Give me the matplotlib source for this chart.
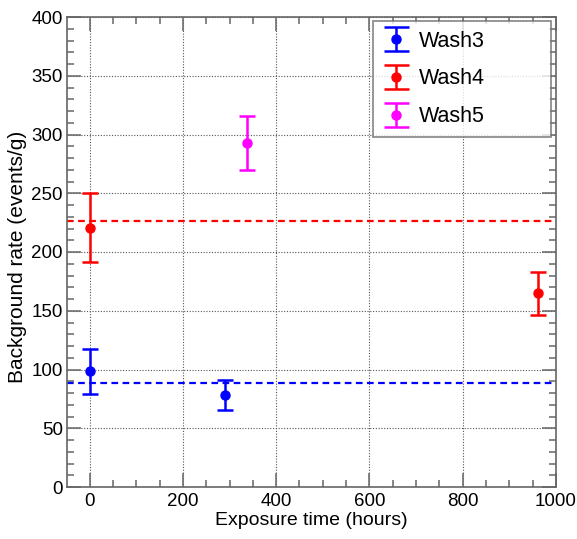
import matplotlib
matplotlib.use("Agg")
import matplotlib.pyplot as plt
from matplotlib.ticker import MultipleLocator
from matplotlib.legend_handler import HandlerErrorbar
from matplotlib.lines import Line2D

plt.rcParams['font.family'] = ['Liberation Sans', 'DejaVu Sans']

# Data
wash3_x = [0, 291]
wash3_y = [98.5, 78.3]
wash3_err = [19.3, 12.5]

wash4_x = [0, 962]
wash4_y = [220.8, 164.8]
wash4_err = [29.3, 18.0]

wash5_x = [338]
wash5_y = [293.0]
wash5_err = [23.0]

wash3_mean = 88.6
wash4_mean = 226.4

labels = ["Wash3", "Wash4", "Wash5"]
colors = ["#0000ff", "#ff0000", "#ff00ff"]

fig = plt.figure(figsize=(5.77, 5.39), dpi=100)
ax = fig.add_axes([67/577, 1 - 487/539, (556-67)/577, (487-17)/539])

ax.set_xlim(-48.5, 1000)
ax.set_ylim(0, 400)

ax.grid(True, which='major', linestyle=(0, (1, 1.5)), color='#555555', linewidth=0.8)
ax.set_axisbelow(True)

ax.axhline(wash4_mean, color=colors[1], linestyle=(0, (3, 2)), linewidth=1.6, zorder=2)
ax.axhline(wash3_mean, color=colors[0], linestyle=(0, (3, 2)), linewidth=1.6, zorder=2)

kw = dict(fmt='o', markersize=6.5, elinewidth=1.8, capsize=6, capthick=1.8, zorder=3)
h3 = ax.errorbar(wash3_x, wash3_y, yerr=wash3_err, color=colors[0], label=labels[0], **kw)
h4 = ax.errorbar(wash4_x, wash4_y, yerr=wash4_err, color=colors[1], label=labels[1], **kw)
h5 = ax.errorbar(wash5_x, wash5_y, yerr=wash5_err, color=colors[2], label=labels[2], **kw)

ax.xaxis.set_major_locator(MultipleLocator(200))
ax.xaxis.set_minor_locator(MultipleLocator(50))
ax.yaxis.set_major_locator(MultipleLocator(50))
ax.yaxis.set_minor_locator(MultipleLocator(10))

ax.tick_params(which='both', direction='in', top=True, right=True, color='#666666',
               labelsize=13.5, labelcolor='black')
ax.tick_params(which='major', length=10, width=1.1)
ax.tick_params(which='minor', length=5, width=1.1)
ax.tick_params(axis='x', pad=4)
ax.tick_params(axis='y', pad=3)

for s in ax.spines.values():
    s.set_color('#666666')
    s.set_linewidth(1.2)

ax.set_xlabel("Exposure time (hours)", fontsize=14, labelpad=2)
ax.set_ylabel("Background rate (events/g)", fontsize=15)
ax.yaxis.set_label_coords(-(67 - 8) / 489, 0.49, transform=ax.transAxes)
ax.yaxis.label.set_va('top')

# legend box in axes coords
x0 = (373 - 67) / 489
x1 = (551 - 67) / 489
y1 = 1 - (21 - 17) / 470
y0 = 1 - (132 - 17) / 470
leg = ax.legend(handles=[h3, h4, h5], loc='upper left',
                bbox_to_anchor=(x0, y0, x1 - x0, y1 - y0), mode='expand',
                fontsize=15.5, frameon=True, fancybox=False, edgecolor='#666666',
                borderpad=0.45, labelspacing=0.78, handlelength=1.25, handletextpad=0.45,
                borderaxespad=0,
                handler_map={type(h3): HandlerErrorbar(yerr_size=0.55)})
leg.get_frame().set_linewidth(1.2)
for ln in leg.findobj(Line2D):
    if ln.get_marker() == '_':
        ln.set_markersize(18)

fig.savefig("out.png", dpi=100)
